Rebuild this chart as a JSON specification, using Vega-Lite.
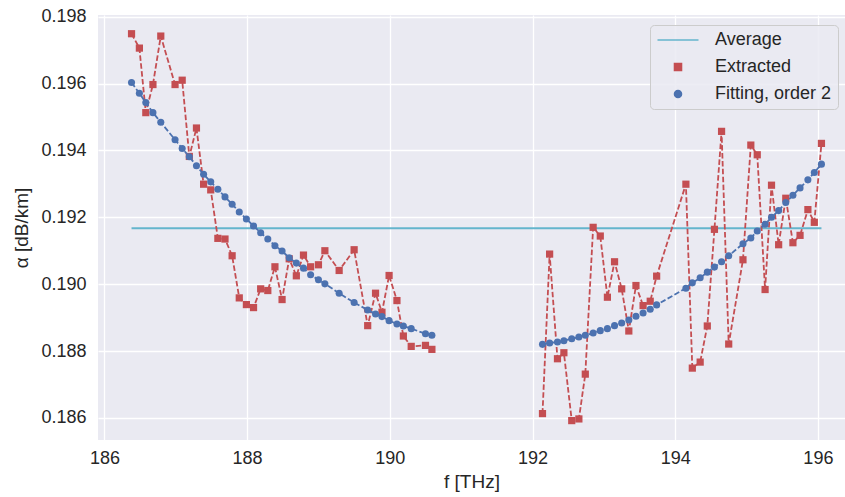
{
  "$schema": "https://vega.github.io/schema/vega-lite/v6.json",
  "width": 747,
  "height": 425,
  "autosize": {"type": "none"},
  "padding": {"left": 98, "top": 15, "right": 0, "bottom": 57},
  "background": "white",
  "datasets": {
    "avg": [
      {"f": 186.38, "avg": 0.19167},
      {"f": 196.05, "avg": 0.19167}
    ],
    "pts": [
      {"f": 186.38, "ext": 0.19749, "fit": 0.19603, "seg": "L"},
      {"f": 186.49, "ext": 0.19706, "fit": 0.19571, "seg": "L"},
      {"f": 186.58, "ext": 0.19513, "fit": 0.19543, "seg": "L"},
      {"f": 186.68, "ext": 0.19597, "fit": 0.19513, "seg": "L"},
      {"f": 186.79, "ext": 0.19742, "fit": 0.19484, "seg": "L"},
      {"f": 186.99, "ext": 0.19597, "fit": 0.19432, "seg": "L"},
      {"f": 187.09, "ext": 0.19610, "fit": 0.19406, "seg": "L"},
      {"f": 187.19, "ext": 0.19382, "fit": 0.19381, "seg": "L"},
      {"f": 187.29, "ext": 0.19467, "fit": 0.19354, "seg": "L"},
      {"f": 187.39, "ext": 0.19299, "fit": 0.19329, "seg": "L"},
      {"f": 187.49, "ext": 0.19282, "fit": 0.19306, "seg": "L"},
      {"f": 187.59, "ext": 0.19137, "fit": 0.19284, "seg": "L"},
      {"f": 187.69, "ext": 0.19135, "fit": 0.19261, "seg": "L"},
      {"f": 187.79, "ext": 0.19085, "fit": 0.19239, "seg": "L"},
      {"f": 187.89, "ext": 0.18959, "fit": 0.19216, "seg": "L"},
      {"f": 187.99, "ext": 0.18939, "fit": 0.19195, "seg": "L"},
      {"f": 188.09, "ext": 0.18930, "fit": 0.19174, "seg": "L"},
      {"f": 188.19, "ext": 0.18986, "fit": 0.19154, "seg": "L"},
      {"f": 188.29, "ext": 0.18981, "fit": 0.19135, "seg": "L"},
      {"f": 188.39, "ext": 0.19052, "fit": 0.19115, "seg": "L"},
      {"f": 188.49, "ext": 0.18954, "fit": 0.19099, "seg": "L"},
      {"f": 188.59, "ext": 0.19076, "fit": 0.19079, "seg": "L"},
      {"f": 188.69, "ext": 0.19025, "fit": 0.19063, "seg": "L"},
      {"f": 188.79, "ext": 0.19087, "fit": 0.19048, "seg": "L"},
      {"f": 188.89, "ext": 0.19052, "fit": 0.19028, "seg": "L"},
      {"f": 189.00, "ext": 0.19058, "fit": 0.19013, "seg": "L"},
      {"f": 189.09, "ext": 0.19100, "fit": 0.19001, "seg": "L"},
      {"f": 189.29, "ext": 0.19041, "fit": 0.18973, "seg": "L"},
      {"f": 189.50, "ext": 0.19103, "fit": 0.18945, "seg": "L"},
      {"f": 189.69, "ext": 0.18876, "fit": 0.18923, "seg": "L"},
      {"f": 189.80, "ext": 0.18973, "fit": 0.18911, "seg": "L"},
      {"f": 189.89, "ext": 0.18916, "fit": 0.18903, "seg": "L"},
      {"f": 189.99, "ext": 0.19026, "fit": 0.18891, "seg": "L"},
      {"f": 190.10, "ext": 0.18951, "fit": 0.18881, "seg": "L"},
      {"f": 190.19, "ext": 0.18845, "fit": 0.18875, "seg": "L"},
      {"f": 190.30, "ext": 0.18814, "fit": 0.18867, "seg": "L"},
      {"f": 190.50, "ext": 0.18817, "fit": 0.18852, "seg": "L"},
      {"f": 190.59, "ext": 0.18805, "fit": 0.18847, "seg": "L"},
      {"f": 192.14, "ext": 0.18613, "fit": 0.18820, "seg": "R"},
      {"f": 192.24, "ext": 0.19090, "fit": 0.18824, "seg": "R"},
      {"f": 192.35, "ext": 0.18777, "fit": 0.18827, "seg": "R"},
      {"f": 192.44, "ext": 0.18795, "fit": 0.18831, "seg": "R"},
      {"f": 192.55, "ext": 0.18592, "fit": 0.18837, "seg": "R"},
      {"f": 192.65, "ext": 0.18597, "fit": 0.18842, "seg": "R"},
      {"f": 192.74, "ext": 0.18731, "fit": 0.18847, "seg": "R"},
      {"f": 192.85, "ext": 0.19170, "fit": 0.18854, "seg": "R"},
      {"f": 192.95, "ext": 0.19144, "fit": 0.18861, "seg": "R"},
      {"f": 193.05, "ext": 0.18961, "fit": 0.18867, "seg": "R"},
      {"f": 193.15, "ext": 0.19067, "fit": 0.18876, "seg": "R"},
      {"f": 193.25, "ext": 0.18986, "fit": 0.18884, "seg": "R"},
      {"f": 193.35, "ext": 0.18860, "fit": 0.18893, "seg": "R"},
      {"f": 193.45, "ext": 0.18996, "fit": 0.18904, "seg": "R"},
      {"f": 193.55, "ext": 0.18936, "fit": 0.18914, "seg": "R"},
      {"f": 193.65, "ext": 0.18949, "fit": 0.18925, "seg": "R"},
      {"f": 193.74, "ext": 0.19024, "fit": 0.18938, "seg": "R"},
      {"f": 194.15, "ext": 0.19299, "fit": 0.18988, "seg": "R"},
      {"f": 194.24, "ext": 0.18749, "fit": 0.19004, "seg": "R"},
      {"f": 194.35, "ext": 0.18767, "fit": 0.19019, "seg": "R"},
      {"f": 194.45, "ext": 0.18875, "fit": 0.19036, "seg": "R"},
      {"f": 194.55, "ext": 0.19164, "fit": 0.19051, "seg": "R"},
      {"f": 194.65, "ext": 0.19457, "fit": 0.19067, "seg": "R"},
      {"f": 194.75, "ext": 0.18821, "fit": 0.19085, "seg": "R"},
      {"f": 194.95, "ext": 0.19073, "fit": 0.19121, "seg": "R"},
      {"f": 195.06, "ext": 0.19416, "fit": 0.19138, "seg": "R"},
      {"f": 195.15, "ext": 0.19387, "fit": 0.19159, "seg": "R"},
      {"f": 195.26, "ext": 0.18984, "fit": 0.19179, "seg": "R"},
      {"f": 195.35, "ext": 0.19296, "fit": 0.19200, "seg": "R"},
      {"f": 195.45, "ext": 0.19118, "fit": 0.19220, "seg": "R"},
      {"f": 195.55, "ext": 0.19257, "fit": 0.19244, "seg": "R"},
      {"f": 195.65, "ext": 0.19124, "fit": 0.19266, "seg": "R"},
      {"f": 195.75, "ext": 0.19146, "fit": 0.19288, "seg": "R"},
      {"f": 195.86, "ext": 0.19223, "fit": 0.19312, "seg": "R"},
      {"f": 195.95, "ext": 0.19185, "fit": 0.19334, "seg": "R"},
      {"f": 196.05, "ext": 0.19421, "fit": 0.19359, "seg": "R"}
    ]
  },
  "encoding": {
    "x": {
      "field": "f", "type": "quantitative",
      "scale": {"domain": [185.91, 196.38], "nice": false, "zero": false},
      "axis": {"title": "f [THz]", "values": [186, 188, 190, 192, 194, 196], "format": "d", "labelPadding": 9, "titlePadding": 5}
    }
  },
  "layer": [
    {
      "data": {"name": "avg"},
      "mark": {"type": "line", "strokeWidth": 2},
      "encoding": {
        "y": {"field": "avg", "type": "quantitative"},
        "color": {"datum": "Average"}
      }
    },
    {
      "data": {"name": "pts"},
      "mark": {"type": "line", "strokeWidth": 1.8, "strokeDash": [5.5, 2.4]},
      "encoding": {
        "y": {"field": "ext", "type": "quantitative"},
        "detail": {"field": "seg"},
        "color": {"datum": "Extracted"}
      }
    },
    {
      "data": {"name": "pts"},
      "mark": {"type": "point", "filled": true, "opacity": 1, "size": 52},
      "encoding": {
        "y": {"field": "ext", "type": "quantitative"},
        "color": {"datum": "Extracted"},
        "shape": {"datum": "Extracted"}
      }
    },
    {
      "data": {"name": "pts"},
      "mark": {"type": "line", "strokeWidth": 1.8, "strokeDash": [5.5, 2.4]},
      "encoding": {
        "y": {"field": "fit", "type": "quantitative"},
        "detail": {"field": "seg"},
        "color": {"datum": "Fitting, order 2"}
      }
    },
    {
      "data": {"name": "pts"},
      "mark": {"type": "point", "filled": true, "opacity": 1, "size": 50},
      "encoding": {
        "y": {
          "field": "fit", "type": "quantitative",
          "scale": {"domain": [0.18534, 0.19805], "nice": false, "zero": false},
          "axis": {"title": "α [dB/km]", "values": [0.186, 0.188, 0.19, 0.192, 0.194, 0.196, 0.198], "format": ".3f", "labelPadding": 12, "titlePadding": 9}
        },
        "color": {
          "datum": "Fitting, order 2",
          "scale": {"domain": ["Average", "Extracted", "Fitting, order 2"], "range": ["#64B5CD", "#C44E52", "#4C72B0"]},
          "legend": {
            "title": null,
            "orient": "none",
            "legendX": 552,
            "legendY": 10,
            "fillColor": "rgba(234,234,242,0.85)",
            "strokeColor": "#cccccc",
            "cornerRadius": 4,
            "padding": 6,
            "rowPadding": 9,
            "labelFontSize": 18,
            "labelFont": "Liberation Sans",
            "labelColor": "#262626",
            "labelOffset": 28,
            "symbolOffset": 13,
            "symbolSize": 50,
            "encode": {
              "symbols": {
                "update": {
                  "stroke": {"signal": "datum.value === 'Average' ? '#64B5CD' : 'transparent'"},
                  "strokeWidth": {"signal": "datum.value === 'Average' ? 2 : 0"}
                }
              }
            }
          }
        },
        "shape": {
          "datum": "Fitting, order 2",
          "scale": {"domain": ["Average", "Extracted", "Fitting, order 2"], "range": ["M-5.8,0H5.8", "square", "circle"]},
          "legend": null
        }
      }
    }
  ],
  "config": {
    "view": {"fill": "#EAEAF2", "stroke": null},
    "font": "Liberation Sans",
    "axis": {
      "domain": false,
      "ticks": false,
      "tickSize": 0,
      "grid": true,
      "gridColor": "#ffffff",
      "gridWidth": 1.3,
      "labelFont": "Liberation Sans",
      "labelFontSize": 18,
      "labelColor": "#262626",
      "titleFont": "Liberation Sans",
      "titleFontSize": 19,
      "titleFontWeight": "normal",
      "titleColor": "#262626"
    }
  }
}
